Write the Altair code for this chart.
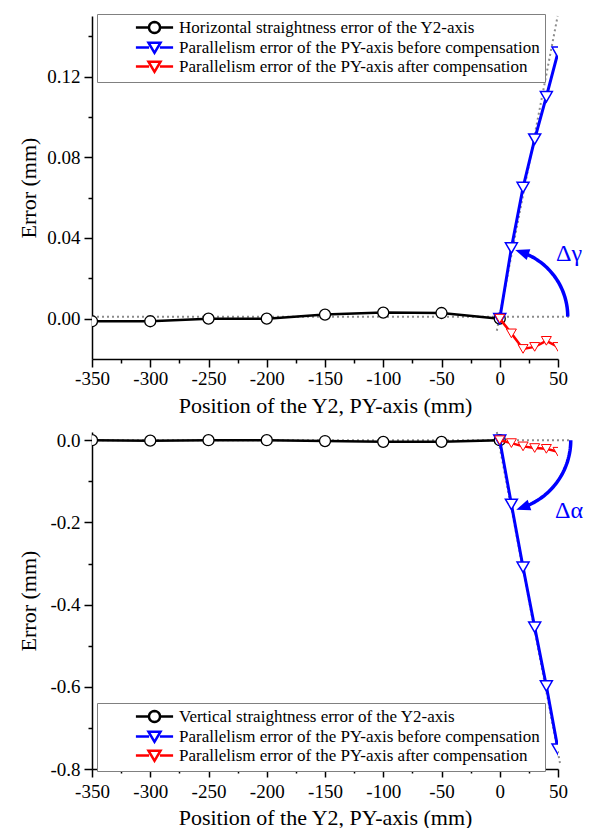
import math
import altair as alt
import pandas as pd

# ---------------- data ----------------
pos_y2 = [-350, -300, -250, -200, -150, -100, -50, 0]
pos_py = [0, 10, 20, 30, 40, 50]

hor_straightness = [-0.0013, -0.0013, 0.0, 0.0, 0.002, 0.003, 0.0028, 0.0]
hor_par_before = [0.0, 0.035, 0.065, 0.089, 0.110, 0.132]
hor_par_after = [0.0, -0.0073, -0.015, -0.014, -0.011, -0.014]

ver_straightness = [0.0, -0.001, 0.0, 0.0, -0.002, -0.004, -0.004, 0.0]
ver_par_before = [0.0, -0.156, -0.309, -0.455, -0.598, -0.752]
ver_par_after = [0.0, -0.007, -0.015, -0.019, -0.021, -0.028]

# dotted reference lines (horizontal reference and fitted axis direction)
hor_ref_x = [-350, 62]
hor_ref_y = [0.001, 0.001]
hor_fit_x = [-2.5, 49.7]
hor_fit_y = [-0.006, 0.15]
ver_ref_x = [-350, 62]
ver_ref_y = [0.0, 0.0]
ver_fit_x = [-2.5, 52]
ver_fit_y = [0.02, -0.79]

top_labels = [
    "Horizontal straightness error of the Y2-axis",
    "Parallelism error of the PY-axis before compensation",
    "Parallelism error of the PY-axis after compensation",
]
bot_labels = [
    "Vertical straightness error of the Y2-axis",
    "Parallelism error of the PY-axis before compensation",
    "Parallelism error of the PY-axis after compensation",
]

x_major = [-350, -300, -250, -200, -150, -100, -50, 0, 50]
x_minor = [-325, -275, -225, -175, -125, -75, -25, 25]
top_y_major = [0.0, 0.04, 0.08, 0.12]
top_y_minor = [0.02, 0.06, 0.10, 0.14]
bot_y_major = [0.0, -0.2, -0.4, -0.6, -0.8]
bot_y_minor = [-0.1, -0.3, -0.5, -0.7]

X_MIN, X_MAX = -350, 50
X_TITLE = "Position of the Y2, PY-axis (mm)"
Y_TITLE = "Error (mm)"
FONT = "Liberation Serif"
W = 466
H_TOP = 343
H_BOT = 337
BLUE = "#0000ff"
RED = "#ff0000"
DOT = "#8c8c8c"


def circle_pts(r, n=24):
    return "L".join(
        f"{r * math.cos(2 * math.pi * i / n):.3f},{r * math.sin(2 * math.pi * i / n):.3f}"
        for i in range(n)
    )


# legend symbols: line + marker, unit = 6 px
sym_circle = "M-3.1,0L-0.92,0M0.92,0L3.1,0M" + circle_pts(0.92) + "Z"
sym_tri = "M-3.1,0L-0.9,0M0.9,0L3.1,0M-1,-0.8L1,-0.8L0,0.9Z"
arrow_shape = "M0,-1L0.8,1L-0.8,1Z"

AXIS_TXT = dict(labelFont=FONT, labelFontSize=19, labelColor="black", labelFlush=False,
                titleFont=FONT, titleFontSize=22, titleFontWeight="normal",
                titleColor="black", domainColor="black", domainWidth=1.5,
                tickColor="black", tickWidth=1.5, grid=False)


def panel(key, straight, before, after, labels, ydom, ymaj, ymin, yfmt, H,
          ref_x, ref_y, fit_x, fit_y, arc_r, arc_cy, arc_sign, delta_txt,
          delta_x, delta_y, leg_y, x_lab_pad, x_title_pad):
    kx = W / (X_MAX - X_MIN)
    ky = H / (ydom[1] - ydom[0])
    xs = alt.Scale(domain=[X_MIN, X_MAX], nice=False, zero=False)
    ys = alt.Scale(domain=ydom, nice=False, zero=False)

    xa_major = alt.Axis(orient="bottom", values=x_major, title=X_TITLE,
                        labelExpr="replace(format(datum.value, 'd'), '\u2212', '-')",
                        tickSize=8, labelPadding=x_lab_pad, titlePadding=x_title_pad, **AXIS_TXT)
    xa_minor = alt.Axis(orient="bottom", values=x_minor, labels=False,
                        title=None, domain=False, tickSize=4, tickColor="black", tickWidth=1.5)
    ya_major = alt.Axis(orient="left", values=ymaj, title=Y_TITLE,
                        labelExpr="replace(format(datum.value, '" + yfmt + "'), '\u2212', '-')",
                        tickSize=8, labelPadding=4, titlePadding=6,
                        minExtent=46, maxExtent=46, **AXIS_TXT)
    ya_minor = alt.Axis(orient="left", values=ymin, labels=False,
                        title=None, domain=False, tickSize=4, tickColor="black", tickWidth=1.5)

    def X(axis=None):
        return alt.X("x:Q", scale=xs, axis=axis)

    def Y(axis=None):
        return alt.Y("y:Q", scale=ys, axis=axis)

    df_s = pd.DataFrame({"x": pos_y2, "y": straight})
    df_b = pd.DataFrame({"x": pos_py, "y": before})
    df_a = pd.DataFrame({"x": pos_py, "y": after})
    df_ref = pd.DataFrame({"x": ref_x, "y": ref_y})
    df_fit = pd.DataFrame({"x": fit_x, "y": fit_y})

    # annotation arc (drawn in pixel space, mapped back through the scales)
    end_line = 66 * arc_sign
    head = 71 * arc_sign
    th = [end_line * i / 40 for i in range(41)]
    df_arc = pd.DataFrame({
        "i": list(range(41)),
        "x": [arc_r * math.cos(math.radians(t)) / kx for t in th],
        "y": [arc_cy + arc_r * math.sin(math.radians(t)) / ky for t in th],
    })
    df_head = pd.DataFrame({
        "x": [arc_r * math.cos(math.radians(head)) / kx],
        "y": [arc_cy + arc_r * math.sin(math.radians(head)) / ky],
    })
    head_angle = (360 - head) % 360 if arc_sign > 0 else 180 - head
    df_txt = pd.DataFrame({"x": [delta_x], "y": [delta_y], "t": [delta_txt]})
    field = "series_" + key
    df_leg = pd.DataFrame({field: labels})

    ref = alt.Chart(df_ref).mark_line(color=DOT, strokeDash=[2, 3], strokeWidth=2, clip=False).encode(
        x=X(xa_major), y=Y(ya_major))
    fit = alt.Chart(df_fit).mark_line(color=DOT, strokeDash=[2, 3], strokeWidth=2, clip=False).encode(
        x=X(xa_minor), y=Y(ya_minor))
    s_line = alt.Chart(df_s).mark_line(color="black", strokeWidth=2.5, clip=True).encode(x=X(), y=Y())
    s_pts = alt.Chart(df_s).mark_point(shape="circle", filled=True, fill="white", stroke="black",
                                       strokeWidth=1.3, size=121, opacity=1, clip=True).encode(x=X(), y=Y())
    b_line = alt.Chart(df_b).mark_line(color=BLUE, strokeWidth=3, clip=True).encode(x=X(), y=Y())
    b_pts = alt.Chart(df_b).mark_point(shape="triangle-down", filled=True, fill="white", stroke=BLUE,
                                       strokeWidth=1.5, size=144, opacity=1, clip=True).encode(x=X(), y=Y())
    a_line = alt.Chart(df_a).mark_line(color=RED, strokeWidth=2.5, clip=True).encode(x=X(), y=Y())
    a_pts = alt.Chart(df_a).mark_point(shape="triangle-down", filled=True, fill="white", stroke=RED,
                                       strokeWidth=1, size=100, opacity=1, clip=True).encode(x=X(), y=Y())
    arc = alt.Chart(df_arc).mark_line(color=BLUE, strokeWidth=3.5, clip=False).encode(
        x=X(), y=Y(), order="i:Q")
    arrow = alt.Chart(df_head).mark_point(shape=arrow_shape, filled=True, fill=BLUE, strokeWidth=0,
                                          size=196, opacity=1, angle=head_angle, clip=False).encode(x=X(), y=Y())
    txt = alt.Chart(df_txt).mark_text(font=FONT, fontSize=24, color=BLUE, align="center",
                                      baseline="middle").encode(x=X(), y=Y(), text="t:N")

    leg = alt.Legend(title=None, orient="none", legendX=5, legendY=leg_y, direction="vertical",
                     padding=5, strokeColor="#808080", fillColor="white",
                     labelFont=FONT, labelFontSize=17, labelColor="black", labelLimit=600,
                     symbolSize=144, symbolStrokeWidth=2.5, symbolOffset=44, labelOffset=16,
                     rowPadding=-2.5)
    legend_layer = alt.Chart(df_leg).transform_filter("false").mark_point(
        filled=True, fill="white", opacity=1).encode(
        stroke=alt.Stroke(field + ":N", scale=alt.Scale(domain=labels, range=["black", BLUE, RED]),
                          legend=leg),
        shape=alt.Shape(field + ":N", scale=alt.Scale(domain=labels, range=[sym_circle, sym_tri, sym_tri]),
                        legend=leg),
    )

    return alt.layer(ref, fit, s_line, s_pts, b_line, b_pts, a_line, a_pts, arc, arrow, txt,
                     legend_layer).resolve_axis(x="independent", y="independent").properties(
        width=W, height=H)


top = panel("h", hor_straightness, hor_par_before, hor_par_after, top_labels,
            [-0.02, 0.15], top_y_major, top_y_minor, ".2f", H_TOP,
            hor_ref_x, hor_ref_y, hor_fit_x, hor_fit_y,
            68, 0.001, 1, "\u0394\u03b3", 59.5, 0.032, -2, 2, 7)
bottom = panel("v", ver_straightness, ver_par_before, ver_par_after, bot_labels,
               [-0.8, 0.02], bot_y_major, bot_y_minor, ".1f", H_BOT,
               ver_ref_x, ver_ref_y, ver_fit_x, ver_fit_y,
               71, 0.0, -1, "\u0394\u03b1", 59.5, -0.172, 271, 5, 6)

chart = alt.vconcat(top, bottom, spacing=12).resolve_scale(
    stroke="independent", shape="independent"
).resolve_legend(
    stroke="independent", shape="independent"
).properties(
    padding={"left": 9, "top": 4, "right": 0, "bottom": 0}
).configure_view(stroke=None)

chart.save("out.html", embed_options={"renderer": "svg", "actions": False})
